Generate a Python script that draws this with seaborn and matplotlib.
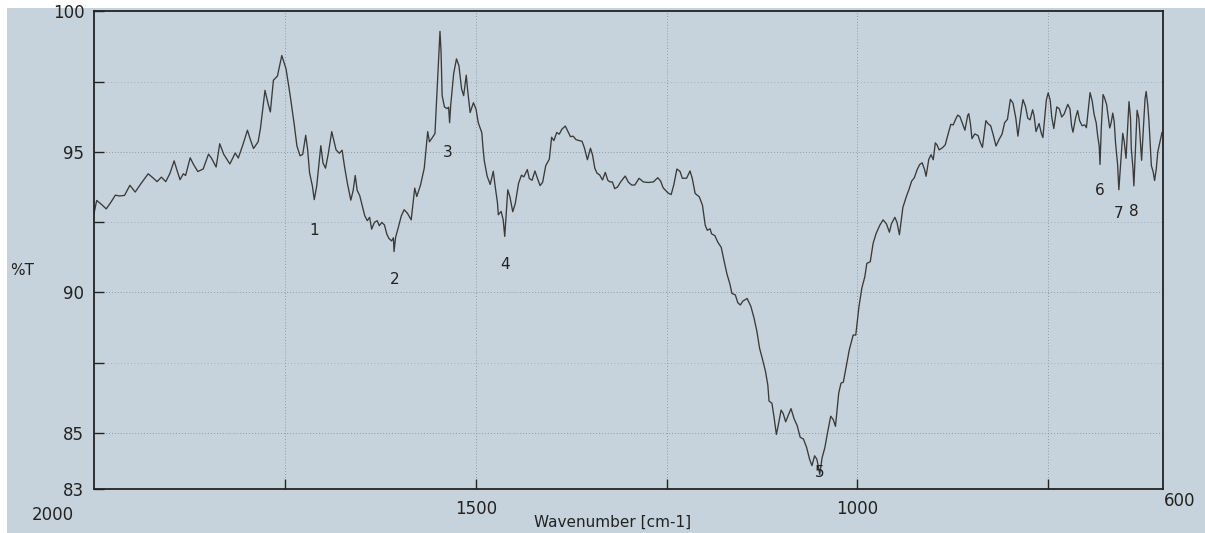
import pandas as pd
import seaborn as sns
import matplotlib.pyplot as plt
from matplotlib.patches import Rectangle

# IR spectrum (%T vs wavenumber)
wavenumber = [
    2000, 1996.5, 1991, 1984, 1978, 1972, 1967, 1960, 1953, 1946, 1938.5, 1929,
    1922.5, 1917.4, 1911.7, 1906, 1900.6, 1895, 1891, 1887.3, 1883, 1880, 1874,
    1870, 1864, 1857, 1850, 1846, 1840, 1835.3, 1830, 1822, 1815, 1811, 1805,
    1799, 1795, 1791, 1785, 1782, 1776, 1772, 1769, 1765, 1759.7, 1754, 1748.4,
    1743, 1737.5, 1734.2, 1730.1, 1726.6, 1722.7, 1720.2, 1717.6, 1713.9, 1711.5,
    1708.3, 1702.9, 1700, 1696.7, 1693, 1688.6, 1686, 1682.9, 1678.6, 1675,
    1671.8, 1668, 1663.6, 1660.5, 1657.8, 1655.3, 1652, 1649.2, 1645.4, 1642,
    1639, 1636.3, 1632.7, 1629, 1626.3, 1623, 1619.6, 1616.4, 1613.7, 1610.2,
    1607.8, 1607, 1604.9, 1601.5, 1597.6, 1593.8, 1589.6, 1584.5, 1579.9, 1577.2,
    1572.3, 1567.4, 1562.9, 1560.6, 1557.5, 1553.4, 1546.8, 1545.4, 1544, 1541,
    1537.5, 1535.5, 1534.2, 1532.8, 1528.9, 1525.2, 1522, 1518.5, 1515.8, 1512.4,
    1510.7, 1507.3, 1503, 1499.6, 1496.7, 1492, 1490.5, 1488.7, 1485, 1481,
    1477, 1474.5, 1471.5, 1470.4, 1466.7, 1464, 1462, 1458, 1455.3, 1451.5,
    1448.2, 1443.9, 1440.1, 1437, 1432.4, 1429.8, 1426.2, 1422.4, 1419.7, 1415.7,
    1412.3, 1408.3, 1403.6, 1400.6, 1397.6, 1393.9, 1390.6, 1387.3, 1382.7,
    1379.5, 1375.9, 1372.4, 1368.8, 1364.6, 1360.8, 1357.6, 1353.7, 1349.7, 1347,
    1344, 1341.1, 1337.7, 1333.9, 1330.3, 1327, 1324.1, 1321, 1317.9, 1314.2,
    1310.2, 1304.2, 1300, 1295.8, 1291.6, 1286, 1280.5, 1274, 1267.3, 1261.5,
    1257.8, 1254.5, 1248.2, 1244, 1240.5, 1236.5, 1232.3, 1229.4, 1223.8, 1219.3,
    1216.4, 1212.6, 1207.2, 1203, 1199.4, 1196.7, 1193, 1191, 1186.8, 1182.8,
    1178.4, 1174.8, 1170.9, 1167, 1164.4, 1160, 1156.7, 1153.4, 1150, 1144.5,
    1139.6, 1135.5, 1131.7, 1128.2, 1124.2, 1120.4, 1117.4, 1115.8, 1112, 1109,
    1106.2, 1103.7, 1100, 1097.2, 1094, 1090.7, 1087, 1083, 1079, 1075, 1070.8,
    1066.6, 1062.7, 1059.6, 1056.1, 1053.2, 1050.9, 1049.4, 1046.3, 1042.7,
    1039.2, 1035, 1031.7, 1028.8, 1024.5, 1021.5, 1018.5, 1014.7, 1010.7, 1005.6,
    1002.2, 998, 994.3, 990.3, 987.7, 983.2, 979.5, 975.6, 970.9, 966.4, 962.1,
    958.1, 955.5, 951, 948.2, 945, 940.5, 935.7, 932.4, 929, 925.5, 921.6, 918.5,
    915.2, 912.1, 910.1, 906.6, 903.6, 900.7, 898, 895.8, 893, 888.5, 885, 881,
    877.7, 874.6, 870.9, 868.5, 865.7, 862.4, 859.2, 855.6, 854.2, 852, 850,
    846.3, 842, 839.2, 836.3, 831.8, 828.5, 825.5, 822.4, 818.5, 814.3, 810.6,
    807.2, 803.5, 799.7, 796.3, 792.6, 789.8, 785.3, 783.2, 779.9, 776.9, 773.9,
    770.5, 768.5, 766.1, 762.1, 759.1, 757.1, 752.6, 750.2, 747.5, 745.5, 742.8,
    738.9, 735.5, 732.4, 729.2, 724.5, 721.6, 719.6, 717.7, 714.1, 711.6, 709,
    705.7, 702.2, 700.1, 697, 695.3, 692.5, 690, 687.3, 685.3, 683.3, 682.3,
    680.6, 678.3, 676.3, 673.6, 671.4, 669.6, 667.7, 665.6, 663.7, 661.9, 659.2,
    657.6, 654.5, 652.5, 650.6, 648.2, 644.3, 642.3, 641.3, 639.1, 637.9, 633.7,
    631.4, 629.6, 627.8, 623.3, 621.8, 619.7, 618.1, 616.4, 615, 612.6, 610.8,
    608.6, 606.6, 601,
]
transmittance = [
    92.80, 93.27, 93.15, 92.97, 93.20, 93.46, 93.43, 93.45, 93.81, 93.57, 93.87, 94.22,
    94.07, 93.94, 94.10, 93.94, 94.23, 94.68, 94.32, 94.01, 94.22, 94.16, 94.79,
    94.57, 94.30, 94.39, 94.92, 94.77, 94.46, 95.29, 94.91, 94.57, 94.96, 94.78, 95.25,
    95.77, 95.42, 95.12, 95.36, 95.83, 97.19, 96.72, 96.42, 97.55, 97.70, 98.43, 97.95,
    97.00, 95.93, 95.21, 94.86, 94.91, 95.59, 95.09, 94.25, 93.78, 93.30,
    93.78, 95.22, 94.60, 94.42, 94.95, 95.72, 95.43, 95.07, 94.95, 95.06,
    94.47, 93.87, 93.28, 93.63, 94.16, 93.63, 93.45, 93.15, 92.73, 92.55,
    92.67, 92.25, 92.49, 92.55, 92.37, 92.49, 92.40, 92.07, 91.92, 91.83,
    91.94, 91.45, 91.96, 92.30, 92.71, 92.94, 92.82, 92.58, 93.71, 93.41,
    93.82, 94.42, 95.72, 95.36, 95.48, 95.65, 99.29, 98.56, 97.01, 96.60,
    96.54, 96.59, 96.04, 96.65, 97.78, 98.31, 98.07, 97.24, 97.00, 97.73,
    97.23, 96.40, 96.75, 96.52, 96.04, 95.68, 95.15, 94.67, 94.13, 93.84,
    94.31, 93.77, 93.18, 92.76, 92.88, 92.58, 91.99, 93.65, 93.41, 92.87,
    93.16, 93.88, 94.17, 94.11, 94.37, 94.05, 93.99, 94.32, 94.10, 93.80,
    93.92, 94.51, 94.74, 95.52, 95.40, 95.69, 95.63, 95.80, 95.92,
    95.74, 95.54, 95.56, 95.44, 95.40, 95.38, 95.14, 94.72, 95.13, 94.89,
    94.42, 94.24, 94.18, 94.00, 94.27, 93.99, 93.93, 93.93, 93.69, 93.75,
    93.93, 94.14, 93.92, 93.82, 93.82, 94.06, 93.93, 93.91, 93.93, 94.08,
    93.96, 93.72, 93.54, 93.48, 93.83, 94.39, 94.30, 94.06, 94.06, 94.32,
    94.06, 93.52, 93.40, 93.10, 92.39, 92.21, 92.26, 92.08, 92.02, 91.78,
    91.60, 91.13, 90.65, 90.29, 89.96, 89.91, 89.63, 89.55, 89.69, 89.78,
    89.50, 89.09, 88.61, 88.01, 87.60, 87.18, 86.70, 86.13, 86.05, 85.51,
    84.94, 85.27, 85.81, 85.68, 85.39, 85.62, 85.86, 85.50, 85.26, 84.84, 84.78,
    84.48, 84.06, 83.83, 84.18, 84.06, 83.76, 83.52, 84.11, 84.47,
    85.00, 85.59, 85.47, 85.23, 86.42, 86.77, 86.80, 87.36, 87.95, 88.48,
    88.48, 89.49, 90.14, 90.56, 91.03, 91.09, 91.74, 92.09, 92.38, 92.58, 92.44,
    92.14, 92.44, 92.67, 92.49, 92.05, 93.02, 93.43, 93.67, 93.96, 94.08, 94.38, 94.55,
    94.61, 94.37, 94.13, 94.73, 94.90, 94.72, 95.32, 95.25, 95.07, 95.15, 95.25, 95.66,
    95.98, 95.96, 96.19, 96.31, 96.25, 96.01, 95.77, 96.30, 96.36, 96.00, 95.47,
    95.64, 95.58, 95.34, 95.16, 96.11, 95.99, 95.93, 95.63, 95.21, 95.45, 95.63,
    96.04, 96.16, 96.87, 96.74, 96.21, 95.56, 96.50, 96.86, 96.62, 96.20, 96.14,
    96.50, 96.26, 95.72, 96.01, 95.66, 95.51, 96.84, 97.10, 96.84, 96.24, 95.83,
    96.60, 96.53, 96.24, 96.35, 96.69, 96.53, 95.94, 95.70, 96.23, 96.47, 96.11,
    95.93, 95.96, 95.86, 96.69, 97.11, 96.81, 96.33, 96.04, 95.56, 95.20, 94.55,
    95.85, 97.04, 96.92, 96.68, 96.21, 95.85, 96.03, 96.38, 96.08, 95.31, 94.54,
    93.65, 94.89, 95.66, 95.37, 94.77, 96.79, 96.19, 95.12, 94.41, 93.79, 96.48,
    96.19, 95.47, 94.70, 96.89, 97.15, 96.65, 96.06, 95.17, 94.51, 94.28, 93.98,
    94.39, 95.00, 95.70,
]

# numbered band markers
peak_labels = ['1', '2', '3', '4', '5', '6', '7', '8']
peak_x = [1711.6, 1606.5, 1536.4, 1462.2, 1049.8, 682.2, 658.1, 638.6]
peak_y = [92.2, 90.46, 94.98, 90.99, 83.58, 93.61, 92.82, 92.88]

y_major = [83, 85, 90, 95, 100]
y_minor = [87.5, 92.5, 97.5]
x_ticks = [1750, 1500, 1250, 1000, 750]
x_tick_labels = ['', '1500', '', '1000', '']

paper = '#c6d3dc'
ink = '#3a3a3a'

sns.set_theme(style='ticks')
plt.rcParams['font.family'] = ['DejaVu Sans']

fig = plt.figure(figsize=(12.05, 5.33), dpi=100, facecolor=paper)
ax = fig.add_axes([0.078, 0.0826, 0.887, 0.896])
ax.set_facecolor(paper)

# white scanner margins
fig.patches.append(Rectangle((0, 1 - 8 / 533), 1, 8 / 533, transform=fig.transFigure,
                             facecolor='white', edgecolor='none', zorder=-1))
fig.patches.append(Rectangle((0, 0), 7 / 1205, 1, transform=fig.transFigure,
                             facecolor='white', edgecolor='none', zorder=-1))

df = pd.DataFrame({'Wavenumber': wavenumber, '%T': transmittance})
sns.lineplot(data=df, x='Wavenumber', y='%T', ax=ax, color=ink, linewidth=0.95,
             sort=False, estimator=None)

ax.set_xlim(2000, 600)
ax.set_ylim(83, 100)

ax.set_yticks(y_major)
ax.set_yticks(y_minor, minor=True)
ax.set_xticks(x_ticks)
ax.set_xticklabels(x_tick_labels)

ax.tick_params(axis='both', which='both', direction='in', length=7, width=1.0,
               color='#222222', labelcolor='#222222', labelsize=12)
ax.tick_params(axis='y', pad=7)
ax.tick_params(axis='x', pad=8)

ax.grid(True, which='major', linestyle=(0, (1, 2.5)), color='#7d898f', linewidth=0.6)
ax.grid(True, which='minor', axis='y', linestyle=(0, (1, 3)), color='#9aa6ad', linewidth=0.6)

for side in ['left', 'right', 'top', 'bottom']:
    ax.spines[side].set_visible(True)
    ax.spines[side].set_color('#222222')
    ax.spines[side].set_linewidth(1.3)

ax.set_xlabel('')
ax.set_ylabel('')

# end labels sit off the normal tick positions on the scan
ax.annotate('2000', xy=(2000, 83), xycoords='data', xytext=(-30, -12),
            textcoords='offset points', ha='center', va='top', fontsize=12, color='#222222')
ax.annotate('600', xy=(600, 83), xycoords='data', xytext=(12, -2),
            textcoords='offset points', ha='center', va='top', fontsize=12, color='#222222')

for lab, px, py in zip(peak_labels, peak_x, peak_y):
    ax.text(px, py, lab, ha='center', va='center', fontsize=11, color='#222222')

fig.text(0.008, 0.493, '%T', ha='left', va='center', fontsize=11, color='#222222')
fig.text(0.508, 0.021, 'Wavenumber [cm-1]', ha='center', va='center', fontsize=11,
         color='#222222')

fig.savefig('out.png', dpi=100, facecolor=paper)
